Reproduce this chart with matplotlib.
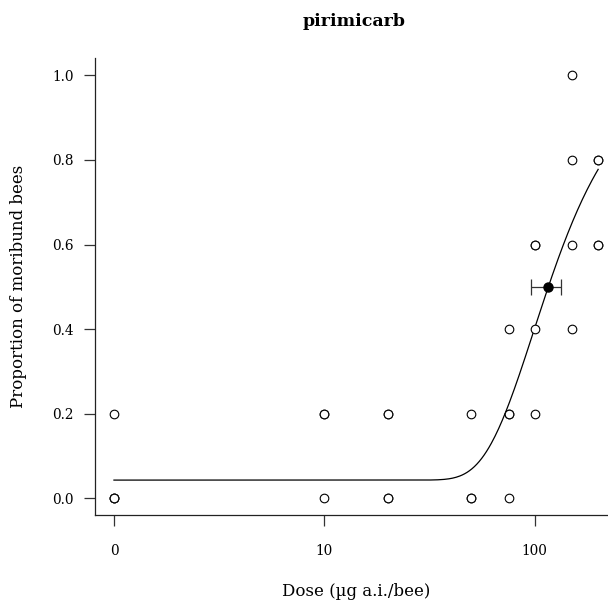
import numpy as np
import matplotlib
matplotlib.use("Agg")
import matplotlib.pyplot as plt

# Observed proportions of moribund bees per dose (µg a.i./bee); control dose 0
dose = [0, 0, 0, 0,
        10, 10, 10,
        20, 20, 20, 20,
        50, 50, 50,
        75, 75, 75, 75,
        100, 100, 100, 100,
        150, 150, 150, 150,
        200, 200, 200, 200]
prop = [0.2, 0.0, 0.0, 0.0,
        0.2, 0.2, 0.0,
        0.2, 0.2, 0.0, 0.0,
        0.2, 0.0, 0.0,
        0.4, 0.2, 0.2, 0.0,
        0.6, 0.6, 0.4, 0.2,
        1.0, 0.8, 0.6, 0.4,
        0.8, 0.8, 0.6, 0.6]

# Fitted Weibull (type 1) dose-response: lower limit, slope, location
fit_lower = 0.043
fit_slope = 1.886
fit_loc = 98.8

# ED50 estimate with 95% confidence interval
ed50 = 115.0
ed50_lo = 95.7
ed50_hi = 133.0
ed50_level = 0.5

xticks = [0, 10, 100]
yticks = [0.0, 0.2, 0.4, 0.6, 0.8, 1.0]

CONTROL_POS = 1.0  # where dose 0 is placed on the log axis


def dose_pos(d):
    d = np.asarray(d, dtype=float)
    return np.where(d == 0, CONTROL_POS, d)


def weibull1(d):
    d = np.asarray(d, dtype=float)
    return fit_lower + (1 - fit_lower) * np.exp(-np.exp(-fit_slope * (np.log(d) - np.log(fit_loc))))


plt.rcParams["font.family"] = ["DejaVu Serif"]

fig = plt.figure(figsize=(6.08, 6.10), dpi=100)
ax = fig.add_axes([94.6 / 608, (610 - 515.2) / 610, 522.9 / 608, 456.8 / 610])

ax.set_xscale("log")
ax.minorticks_off()

# fitted curve
xs = np.logspace(0, np.log10(max(dose)), 400)
ax.plot(xs, weibull1(xs), color="black", lw=0.9, zorder=2)

# observations
ax.plot(dose_pos(dose), prop, linestyle="none", marker="o", ms=6.2,
        mfc="white", mec="black", mew=0.8, zorder=3)

# ED50 with confidence interval
ax.errorbar([ed50], [ed50_level], xerr=[[ed50 - ed50_lo], [ed50_hi - ed50]],
            fmt="o", color="black", ms=6.5, ecolor="#333333", elinewidth=0.9,
            capsize=6, capthick=0.9, zorder=4)

ax.set_xlim(10 ** -0.092, 10 ** 2.393)
ax.set_ylim(-0.04, 1.04)

ax.set_xticks(dose_pos(xticks))
ax.set_xticklabels([str(t) for t in xticks])
ax.set_yticks(yticks)
ax.set_yticklabels([f"{t:.1f}" for t in yticks])

for s in ("top", "right"):
    ax.spines[s].set_visible(False)
for s in ("left", "bottom"):
    ax.spines[s].set_linewidth(0.9)
    ax.spines[s].set_color("#222222")

ax.tick_params(axis="both", length=8, width=0.9, color="#333333", labelsize=9.8)
ax.tick_params(axis="x", pad=13)
ax.tick_params(axis="y", pad=7)

ax.set_xlabel("Dose (µg a.i./bee)", fontsize=12, labelpad=18)
ax.set_ylabel("Proportion of moribund bees", fontsize=12, labelpad=18)
fig.text(354 / 608, 1 - 22 / 610, "pirimicarb", ha="center", va="center",
         fontsize=12.5, fontweight="bold")

fig.savefig("out.png", dpi=100)
